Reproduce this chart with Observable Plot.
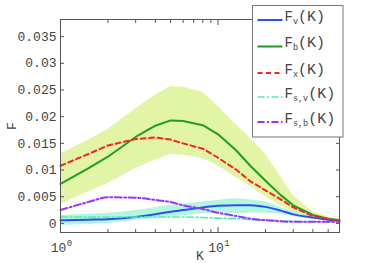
<!DOCTYPE html>
<html><head><meta charset="utf-8">
<script src="https://cdn.jsdelivr.net/npm/d3@7"></script>
<script src="https://cdn.jsdelivr.net/npm/@observablehq/plot@0.6"></script>
<style>body{margin:0;background:#fff}#chart{width:374px;height:263px}</style>
</head><body><div id="chart"></div>
<script>
// K values (log axis)
const K = [1, 1.5, 2, 3, 4, 5, 6, 8, 10, 13, 16, 20, 25, 30, 40, 50, 59];
// series values
const Fv   = [0.0006,0.0007,0.0008,0.0012,0.0017,0.0022,0.0025,0.0030,0.0033,0.0034,0.0034,0.0031,0.0024,0.0017,0.0011,0.0007,0.0005];
const FvLo = [-0.0004,-0.0002,0.0000,0.0005,0.0009,0.0012,0.0014,0.0018,0.0019,0.0018,0.0019,0.0019,0.0017,0.0013,0.0008,0.0005,0.0003];
const FvHi = [0.0015,0.0017,0.0019,0.0024,0.0030,0.0034,0.0036,0.0040,0.0043,0.0046,0.0044,0.0040,0.0030,0.0022,0.0014,0.0009,0.0007];
const Fb   = [0.0074,0.0103,0.0125,0.0162,0.0183,0.0193,0.0192,0.0184,0.0167,0.0137,0.0108,0.0080,0.0053,0.0034,0.0016,0.0009,0.0006];
const FbLo = [0.0036,0.0059,0.0075,0.0103,0.0119,0.0129,0.0128,0.0121,0.0108,0.0086,0.0070,0.0050,0.0033,0.0021,0.0011,0.0007,0.0004];
const FbHi = [0.0130,0.0156,0.0176,0.0215,0.0240,0.0256,0.0255,0.0246,0.0219,0.0185,0.0160,0.0130,0.0087,0.0052,0.0022,0.0012,0.0008];
const Fx   = [0.0108,0.0130,0.0146,0.0158,0.0161,0.0157,0.0150,0.0140,0.0123,0.0101,0.0079,0.0062,0.0045,0.0030,0.0014,0.0008,0.0005];
const Fsv  = [0.0012,0.0012,0.0012,0.0012,0.0012,0.0012,0.0012,0.0011,0.0010,0.0009,0.0007,0.0006,0.0005,0.0004,0.0003,0.0003,0.0003];
const Fsb  = [0.0025,0.0040,0.0049,0.0048,0.0044,0.0040,0.0034,0.0027,0.0020,0.0014,0.0009,0.0006,0.0004,0.0003,0.0003,0.0003,0.0003];
// tick values
const yTicks = [0, 0.005, 0.01, 0.015, 0.02, 0.025, 0.03, 0.035];
const xMajor = [1, 10];
const xMinor = [2,3,4,5,6,7,8,9,20,30,40,50];

const series = [
  {sub: "v",   vals: Fv,  color: "#2b4cff", dash: null,        width: 2},
  {sub: "b",   vals: Fb,  color: "#1f9e1f", dash: null,        width: 2},
  {sub: "x",   vals: Fx,  color: "#ff2020", dash: "5,3.5",     width: 2},
  {sub: "s,v", vals: Fsv, color: "#4df0b0", dash: "7,2.5,2,2.5", width: 1.6},
  {sub: "s,b", vals: Fsb, color: "#9a33ff", dash: "7,2.5,2,2.5", width: 2}
];
const bandB = K.map((k, i) => ({K: k, lo: FbLo[i], hi: FbHi[i]}));
const bandV = K.map((k, i) => ({K: k, lo: FvLo[i], hi: FvHi[i]}));

const lineMarks = series.map(s => Plot.line(K.map((k, i) => ({K: k, F: s.vals[i]})), {
  x: "K", y: "F", stroke: s.color, strokeWidth: s.width, strokeDasharray: s.dash,
  curve: s.sub === "b" || s.sub === "x" ? "linear" : "monotone-x"
}));

const plot = Plot.plot({
  width: 374, height: 263,
  marginLeft: 60, marginRight: 35, marginTop: 19, marginBottom: 31,
  style: {fontFamily: "'Liberation Mono', 'DejaVu Sans Mono', monospace", fontSize: "13px", color: "#444", background: "#fff"},
  x: {type: "log", domain: [1, 59]},
  y: {domain: [-0.0017, 0.0382]},
  marks: [
    Plot.areaY(bandB, {x: "K", y1: "lo", y2: "hi", fill: "#e2f5a6"}),
    Plot.areaY(bandV, {x: "K", y1: "lo", y2: "hi", fill: "#b5f7de", curve: "monotone-x"}),
    ...lineMarks,
    Plot.frame({stroke: "#555"}),
    Plot.axisY(yTicks, {anchor: "left", tickSize: 0, tickPadding: 4, tickFormat: d => String(+d.toFixed(3)),
      label: "F", labelAnchor: "center", labelArrow: "none", labelOffset: 54}),
    Plot.axisY(yTicks, {anchor: "left", tickSize: 4, dx: 4, fill: "none", stroke: "#555", label: null}),
    Plot.axisY(yTicks, {anchor: "right", tickSize: 4, dx: -4, fill: "none", stroke: "#555", label: null}),
    Plot.axisX(xMajor, {anchor: "bottom", tickSize: 0, tickPadding: 10, dx: -2, tickFormat: () => "10",
      label: "K", labelAnchor: "center", labelArrow: "none", labelOffset: 27}),
    Plot.axisX(xMajor, {anchor: "bottom", tickSize: 0, tickPadding: 7, dx: 9, fontSize: 9, tickFormat: d => String(Math.round(Math.log10(d))), label: null}),
    Plot.axisX(xMajor, {anchor: "bottom", tickSize: 5, dy: -5, fill: "none", stroke: "#555", label: null}),
    Plot.axisX(xMinor, {anchor: "bottom", tickSize: 3, dy: -3, fill: "none", stroke: "#555", label: null}),
    Plot.axisX(xMajor, {anchor: "top", tickSize: 5, dy: 5, fill: "none", stroke: "#555", label: null}),
    Plot.axisX(xMinor, {anchor: "top", tickSize: 3, dy: 3, fill: "none", stroke: "#555", label: null})
  ]
});
document.getElementById("chart").appendChild(plot);

// Legend (inside the plot, top right)
const svg = d3.select(plot);
const lg = svg.append("g")
  .attr("font-family", "'Liberation Mono', 'DejaVu Sans Mono', monospace")
  .attr("fill", "#444").attr("text-anchor", "start");
lg.append("rect").attr("x", 252.5).attr("y", 5.5).attr("width", 90.5).attr("height", 131.5)
  .attr("fill", "#fff").attr("stroke", "#777");
const rowY = [20, 46.5, 73, 97, 122];
series.forEach((s, i) => {
  const y = rowY[i];
  lg.append("line").attr("x1", 257.5).attr("x2", 282.5).attr("y1", y).attr("y2", y)
    .attr("stroke", s.color).attr("stroke-width", s.width).attr("stroke-dasharray", s.dash);
  const t = lg.append("text").attr("x", 284.5).attr("y", y + 0.5).attr("font-size", 15)
    .attr("text-anchor", "start");
  t.append("tspan").attr("font-size", 14).text("F");
  t.append("tspan").attr("font-size", 8.5).attr("dy", 3).text(s.sub);
  t.append("tspan").attr("dy", -3).text("(K)");
});
</script>
</body></html>
